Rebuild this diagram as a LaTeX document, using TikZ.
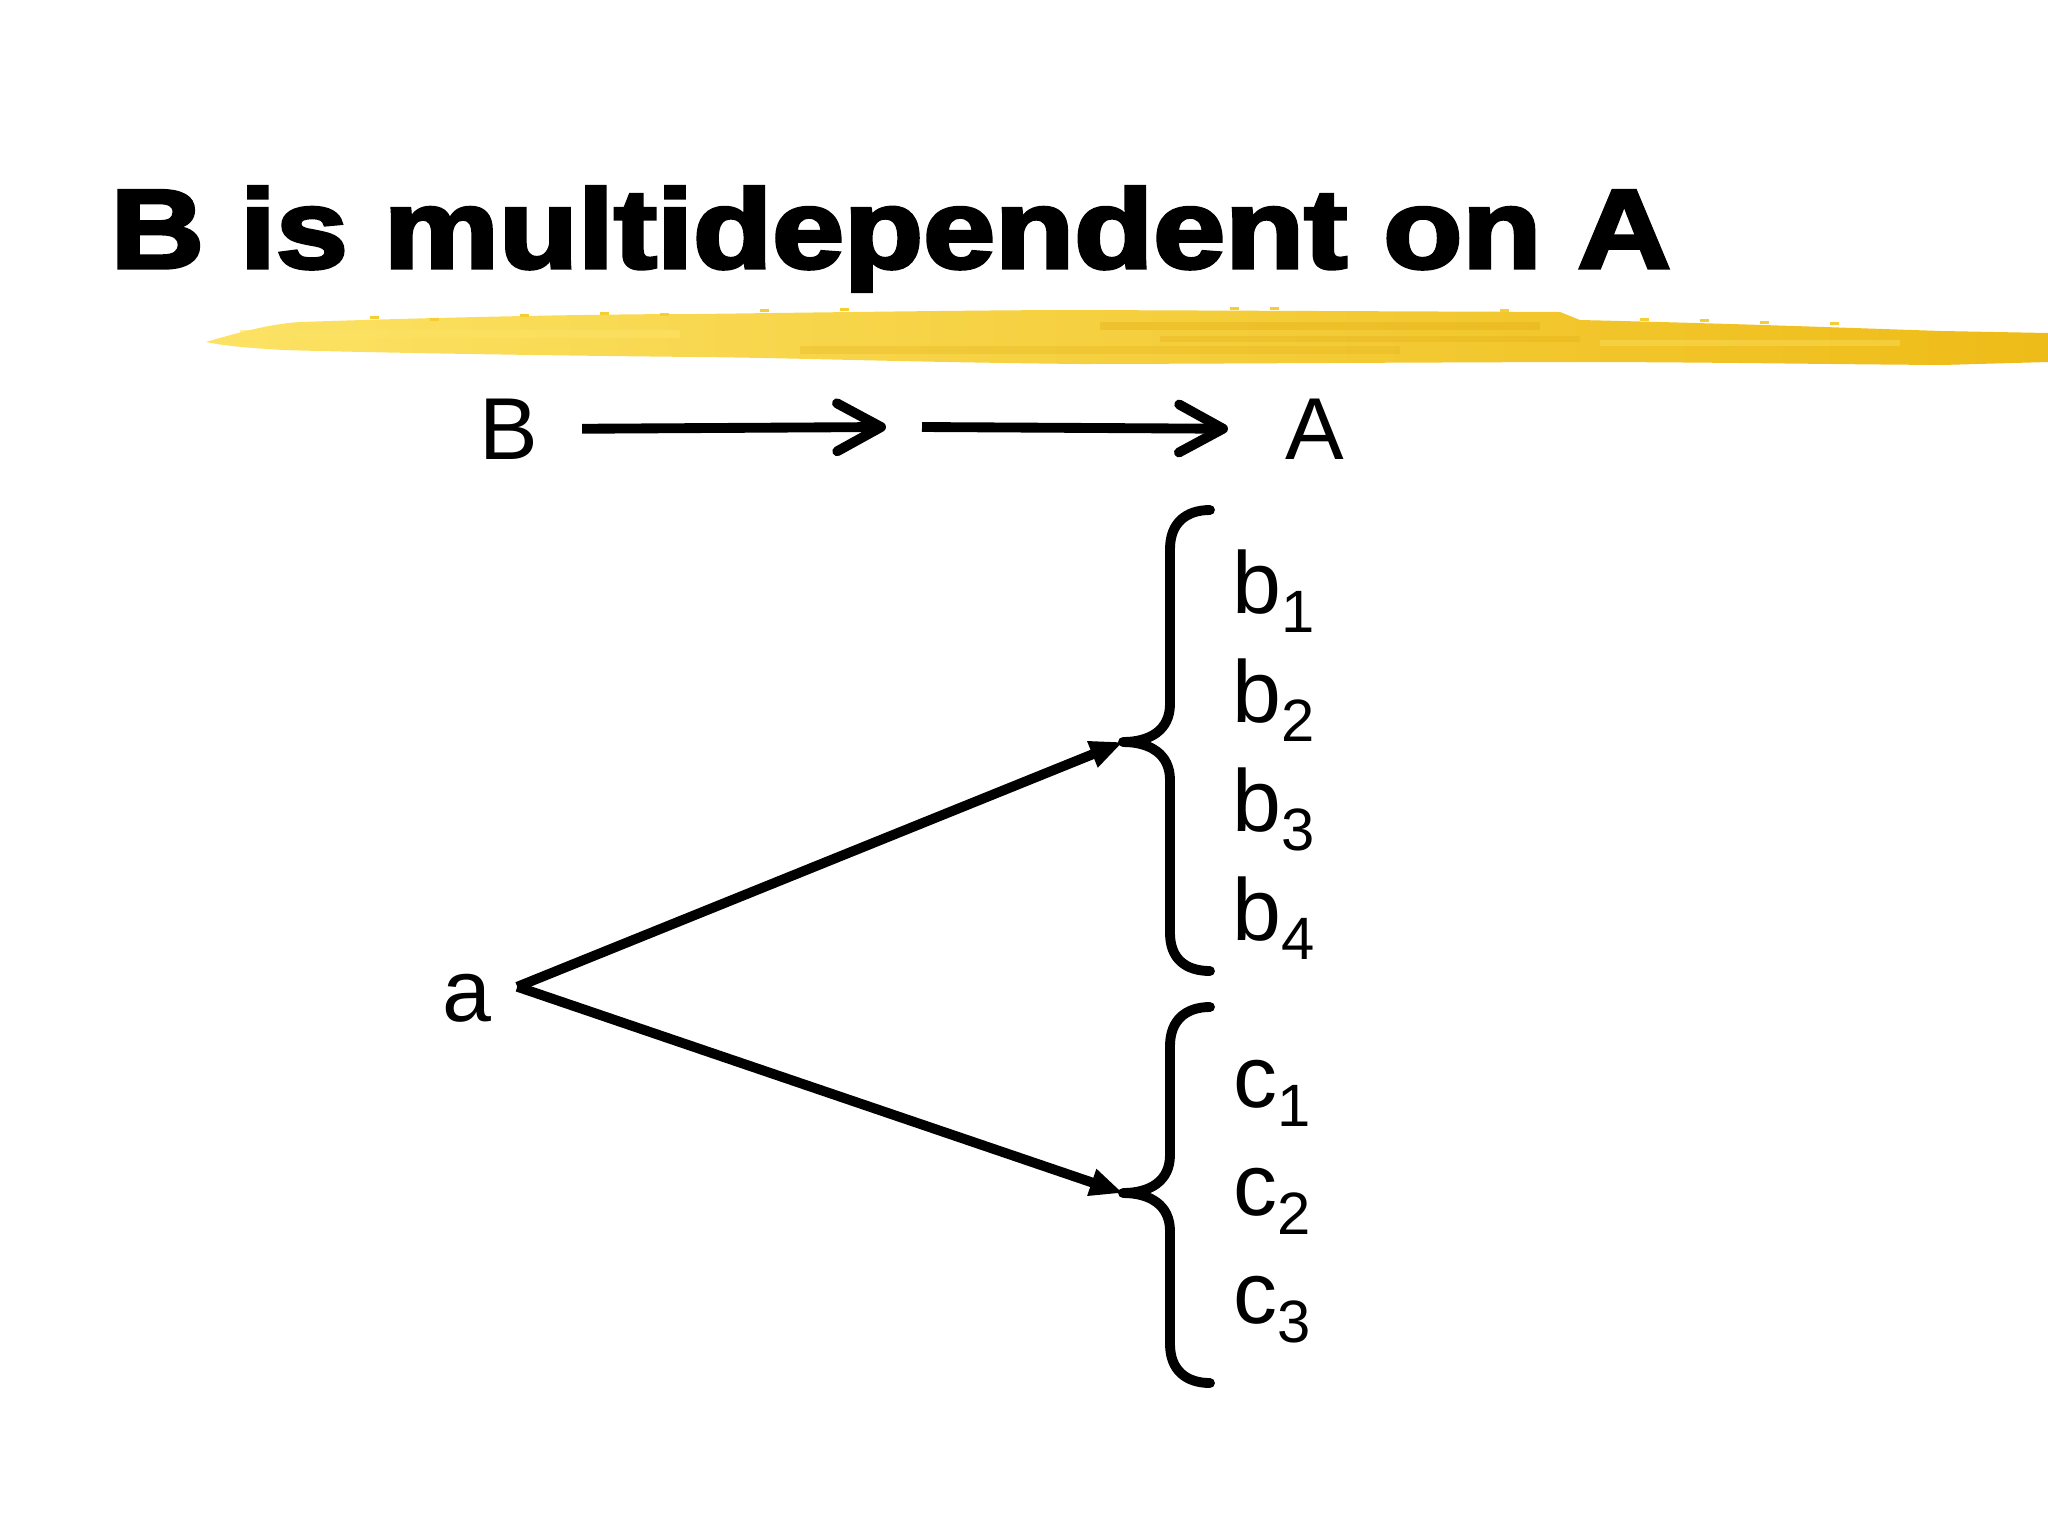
\documentclass[tikz,border=0pt]{standalone}
\usepackage{fontspec}
\setmainfont{Liberation Sans}
\newfontfamily\titlefont[FakeBold=3]{Liberation Sans Bold}
\usetikzlibrary{arrows.meta}
\definecolor{brushlight}{RGB}{252,226,100}
\definecolor{brushmid}{RGB}{246,206,50}
\definecolor{brushdark}{RGB}{238,188,24}
\definecolor{brushdeep}{RGB}{226,172,18}
\newcommand\idx[1]{\raisebox{-5.6pt}{\fontsize{17}{17}\selectfont #1}}
\tikzset{%
  >={Triangle[length=3.3mm,width=2.6mm]},
  % Specifications for style of nodes:
  letter/.style = {inner sep=0pt, anchor=base west, font=\fontsize{25}{25}\selectfont},
  heading/.style = {inner sep=0pt, anchor=base west, font=\titlefont\fontsize{32}{32}\selectfont},
  heavy/.style = {line width=2.8pt},
  curly/.style = {heavy, line cap=round, line join=round},
  norm/.style = {->, draw, black, heavy},
  barb/.style = {-{Straight Barb[length=4.4mm,width=4.8mm,round]}, heavy, line cap=butt},
}

\begin{document}
\begin{tikzpicture}[x=0.01cm, y=-0.01cm]
  \useasboundingbox (0,0) rectangle (2048,1536);
  % brush stroke under the title
  \shade[left color=brushlight, middle color=brushmid, right color=brushdark]
    (206,342) .. controls (240,332) and (270,324) .. (300,322)
    .. controls (450,317) and (600,314) .. (697,314)
    .. controls (850,312) and (1000,310) .. (1080,310)
    -- (1560,312) -- (1580,320)
    .. controls (1750,324) and (1850,328) .. (1942,331)
    -- (2048,333) -- (2048,362) -- (1942,365)
    .. controls (1800,364) and (1700,362) .. (1564,362)
    .. controls (1300,363) and (1150,364) .. (1080,364)
    .. controls (900,362) and (800,358) .. (697,357)
    .. controls (500,355) and (350,352) .. (283,350)
    .. controls (250,348) and (225,346) .. (206,342) -- cycle;
  % texture of the stroke
  \fill[brushdeep, opacity=0.35] (1100,322) rectangle (1540,330);
  \fill[brushdeep, opacity=0.3] (1160,336) rectangle (1580,342);
  \fill[brushdeep, opacity=0.25] (800,346) rectangle (1400,354);
  \fill[brushlight, opacity=0.6] (240,330) rectangle (680,338);
  \fill[brushlight, opacity=0.4] (1600,340) rectangle (1900,346);
  \foreach \x/\y in {370/316, 430/318, 520/314, 600/312, 660/313, 760/309, 840/308, 1230/307, 1270/307, 1500/309, 1640/318, 1700/319, 1760/321, 1830/322}
    \fill[brushmid] (\x,\y) rectangle ++(9,3);
  \node (title) [heading] at (110,268) {\scalebox{1.15}[1]{B is multidependent on A}};

  % B and A with the two arrows
  \node (B) [letter] at (479,459) {B};
  \node (A) [letter] at (1285,459) {A};
  \coordinate (m1) at (886,427);
  \coordinate (m2) at (922,427);
  \draw [barb] ([xshift=0.43cm]B.east) -- (m1);
  \draw [barb] (m2) -- ([xshift=-0.57cm]A.west);

  % the two braces
  \coordinate (btip) at (1123,742);
  \coordinate (ctip) at (1123,1193);
  \draw [curly] (1210,510) .. controls (1186,510) and (1170,523) .. (1170,549)
    -- (1170,704) .. controls (1170,730) and (1150,742) .. (btip)
    .. controls (1150,742) and (1170,754) .. (1170,780)
    -- (1170,933) .. controls (1170,959) and (1186,971) .. (1210,971);
  \draw [curly] (1210,1007) .. controls (1186,1007) and (1170,1020) .. (1170,1046)
    -- (1170,1155) .. controls (1170,1181) and (1150,1193) .. (ctip)
    .. controls (1150,1193) and (1170,1205) .. (1170,1231)
    -- (1170,1344) .. controls (1170,1370) and (1186,1383) .. (1210,1383);

  % members of each group
  \node (b1) [letter] at (1232,613) {b\idx{1}};
  \node (b2) [letter] at (1232,722) {b\idx{2}};
  \node (b3) [letter] at (1232,831) {b\idx{3}};
  \node (b4) [letter] at (1232,940) {b\idx{4}};
  \node (c1) [letter] at (1233,1107) {c\idx{1}};
  \node (c2) [letter] at (1233,1215) {c\idx{2}};
  \node (c3) [letter] at (1233,1323) {c\idx{3}};

  % a points to both groups
  \node (a) [letter] at (442,1021) {a};
  \draw [norm] ([shift={(0.25cm,0.11cm)}]a.east) -- (btip);
  \draw [norm] ([shift={(0.25cm,0.11cm)}]a.east) -- (ctip);
\end{tikzpicture}
\end{document}
